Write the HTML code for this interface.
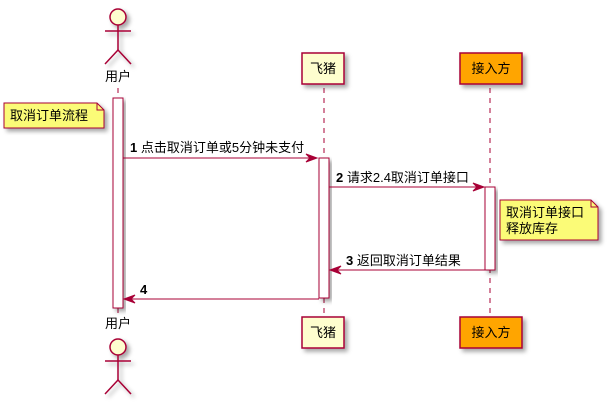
<!DOCTYPE html><html><head><meta charset="utf-8"><style>body{margin:0;background:#fff}</style></head><body>
<svg width="608" height="402" xmlns="http://www.w3.org/2000/svg" font-family="Liberation Sans, Noto Sans CJK SC, sans-serif" font-size="13">
<defs><filter id="s" x="-20%" y="-20%" width="150%" height="150%"><feDropShadow dx="3" dy="3" stdDeviation="2" flood-color="#000" flood-opacity="0.35"/></filter></defs>
<g stroke="#A80036" stroke-width="1" stroke-dasharray="5,5" fill="none">
<line x1="118" y1="88" x2="118" y2="316"/><line x1="324" y1="88" x2="324" y2="316"/><line x1="490" y1="88" x2="490" y2="316"/></g>
<g fill="#FEFECE" stroke="#A80036" stroke-width="1.5">
<g filter="url(#s)"><circle cx="118" cy="17" r="8"/><line x1="118" y1="25" x2="118" y2="50"/><line x1="105" y1="31" x2="131" y2="31"/><line x1="118" y1="50" x2="105" y2="64"/><line x1="118" y1="50" x2="131" y2="64"/></g>
<g filter="url(#s)"><circle cx="118" cy="347" r="8"/><line x1="118" y1="355" x2="118" y2="380"/><line x1="105" y1="361" x2="131" y2="361"/><line x1="118" y1="380" x2="105" y2="394"/><line x1="118" y1="380" x2="131" y2="394"/></g>
<rect x="302" y="53" width="42" height="31" filter="url(#s)"/><rect x="302" y="317" width="42" height="31" filter="url(#s)"/>
<rect x="460" y="53" width="62" height="31" fill="#FFA500" filter="url(#s)"/><rect x="460" y="317" width="62" height="31" fill="#FFA500" filter="url(#s)"/>
</g>
<g fill="#fff" stroke="#A80036" stroke-width="1">
<rect x="113" y="98" width="10" height="210" filter="url(#s)"/>
<rect x="319" y="158" width="10" height="140" filter="url(#s)"/>
<rect x="485" y="187" width="10" height="83" filter="url(#s)"/></g>
<g fill="#FBFB77" stroke="#A80036" stroke-width="1">
<path d="M4,103 H97 L104,110 V128 H4 Z" filter="url(#s)"/><path d="M97,103 V110 H104" fill="none"/>
<path d="M500,200 H591 L598,207 V240 H500 Z" filter="url(#s)"/><path d="M591,200 V207 H598" fill="none"/></g>
<g stroke="#A80036" stroke-width="1" fill="#A80036">
<line x1="123" y1="158" x2="316" y2="158"/><path d="M306,154 L317,158 L306,162 L310,158 Z"/>
<line x1="329" y1="187" x2="483" y2="187"/><path d="M473,183 L484,187 L473,191 L477,187 Z"/>
<line x1="485" y1="270" x2="331" y2="270"/><path d="M341,266 L330,270 L341,274 L337,270 Z"/>
<line x1="319" y1="299" x2="125" y2="299"/><path d="M135,295 L124,299 L135,303 L131,299 Z"/></g>
<g fill="#000">
<text x="118" y="81" text-anchor="middle">用户</text><text x="118" y="328" text-anchor="middle">用户</text>
<text x="323" y="73" text-anchor="middle">飞猪</text><text x="323" y="337" text-anchor="middle">飞猪</text>
<text x="491" y="73" text-anchor="middle">接入方</text><text x="491" y="337" text-anchor="middle">接入方</text>
<text x="10" y="120">取消订单流程</text>
<text x="506" y="217">取消订单接口</text><text x="506" y="233">释放库存</text>
<text x="130" y="152"><tspan font-weight="bold">1</tspan> 点击取消订单或5分钟未支付</text>
<text x="336" y="182"><tspan font-weight="bold">2</tspan> 请求2.4取消订单接口</text>
<text x="346" y="265"><tspan font-weight="bold">3</tspan> 返回取消订单结果</text>
<text x="140" y="294" font-weight="bold">4</text>
</g></svg></body></html>
